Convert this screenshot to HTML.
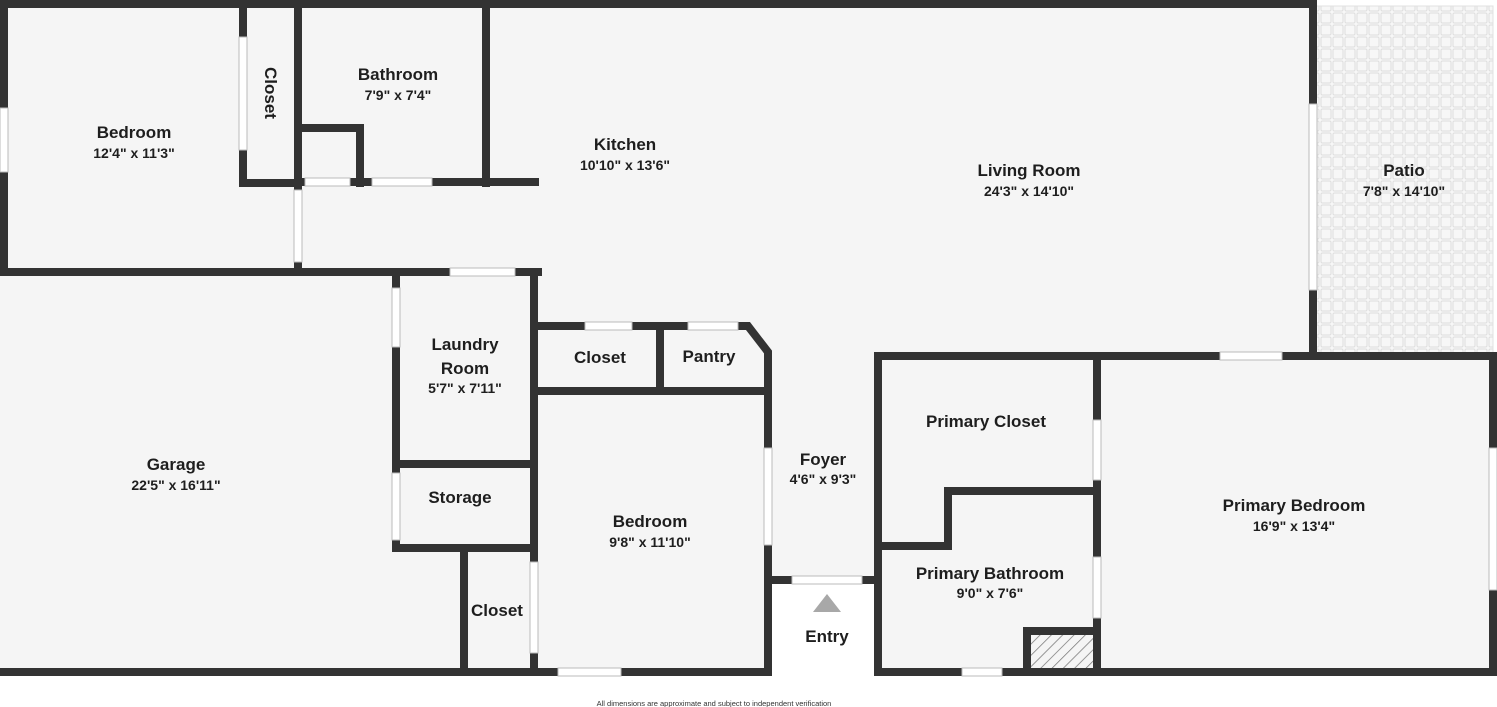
<!DOCTYPE html>
<html><head><meta charset="utf-8"><style>
body{margin:0;background:#fff;width:1497px;height:707px;overflow:hidden}
svg{display:block}
text{font-family:"Liberation Sans",sans-serif;fill:#1e1e1e;text-anchor:middle}
.n{font-size:17px;font-weight:bold}
.d{font-size:14px;font-weight:bold}
</style></head><body>
<svg width="1497" height="707" viewBox="0 0 1497 707">
<defs>
<pattern id="tile" width="12" height="12" patternUnits="userSpaceOnUse">
<rect width="12" height="12" fill="#f7f7f7"/>
<rect x="1" y="1" width="10" height="10" fill="none" stroke="#dedede" stroke-width="1" rx="1.5"/>
</pattern>
<pattern id="hatch" width="8" height="8" patternUnits="userSpaceOnUse" patternTransform="rotate(45)">
<rect width="8" height="8" fill="#f5f5f5"/><line x1="0" y1="0" x2="0" y2="8" stroke="#777" stroke-width="1.5"/>
</pattern>
</defs>
<polygon points="0,0 1313,0 1313,356 1497,356 1497,676 874,676 874,584 772,584 772,676 0,676" fill="#f5f5f5"/>
<rect x="1313" y="6" width="180" height="348" fill="url(#tile)" stroke="#e0e0e0"/>
<rect x="1027" y="632" width="66" height="38" fill="url(#hatch)"/>
<rect x="772" y="584" width="102" height="92" fill="#fff"/>
<g stroke="#333" stroke-width="8" stroke-linecap="square" fill="none">
<path d="M0,4H1313M4,4V272M0,272H538M243,4V183H298M298,4V272M302,128H360V183M298,182H535M486,4V183"/>
<path d="M1313,4V355M534,272V672M396,272V548H534M396,464H534M464,548V672M0,672H768"/>
<path d="M534,326H748L768,352V580H878M768,580V672M660,326V391M534,391H768"/>
<path d="M878,356H1493V672H878V356M1097,356V672M948,491H1097M948,491V546H878M1027,672V631H1097"/>
</g>
<g fill="#fff" stroke="#bbb" stroke-width="1">
<rect x="0" y="108" width="8" height="64"/>
<rect x="239" y="37" width="8" height="113"/>
<rect x="294" y="190" width="8" height="72"/>
<rect x="305" y="178" width="45" height="8"/>
<rect x="372" y="178" width="60" height="8"/>
<rect x="1309" y="104" width="8" height="186"/>
<rect x="450" y="268" width="65" height="8"/>
<rect x="392" y="288" width="8" height="59"/>
<rect x="392" y="473" width="8" height="67"/>
<rect x="530" y="562" width="8" height="91"/>
<rect x="558" y="668" width="63" height="8"/>
<rect x="585" y="322" width="47" height="8"/>
<rect x="688" y="322" width="50" height="8"/>
<rect x="764" y="448" width="8" height="97"/>
<rect x="792" y="576" width="70" height="8"/>
<rect x="1220" y="352" width="62" height="8"/>
<rect x="1093" y="420" width="8" height="60"/>
<rect x="1093" y="557" width="8" height="61"/>
<rect x="1489" y="448" width="8" height="142"/>
<rect x="962" y="668" width="40" height="8"/>
</g>
<polygon points="827,594 841,612 813,612" fill="#a8a8a8"/>
<text class="n" x="134" y="138">Bedroom</text><text class="d" x="134" y="158">12'4" x 11'3"</text>
<text class="n" x="271" y="93" transform="rotate(90 271 93)" dy="6">Closet</text>
<text class="n" x="398" y="80">Bathroom</text><text class="d" x="398" y="100">7'9" x 7'4"</text>
<text class="n" x="625" y="150">Kitchen</text><text class="d" x="625" y="170">10'10" x 13'6"</text>
<text class="n" x="1029" y="176">Living Room</text><text class="d" x="1029" y="196">24'3" x 14'10"</text>
<text class="n" x="1404" y="176">Patio</text><text class="d" x="1404" y="196">7'8" x 14'10"</text>
<text class="n" x="176" y="470">Garage</text><text class="d" x="176" y="490">22'5" x 16'11"</text>
<text class="n" x="465" y="350">Laundry</text><text class="n" x="465" y="374">Room</text><text class="d" x="465" y="393">5'7" x 7'11"</text>
<text class="n" x="460" y="503">Storage</text>
<text class="n" x="497" y="616">Closet</text>
<text class="n" x="600" y="363">Closet</text>
<text class="n" x="709" y="362">Pantry</text>
<text class="n" x="650" y="527">Bedroom</text><text class="d" x="650" y="547">9'8" x 11'10"</text>
<text class="n" x="823" y="465">Foyer</text><text class="d" x="823" y="484">4'6" x 9'3"</text>
<text class="n" x="827" y="642">Entry</text>
<text class="n" x="986" y="427">Primary Closet</text>
<text class="n" x="990" y="579">Primary Bathroom</text><text class="d" x="990" y="598">9'0" x 7'6"</text>
<text class="n" x="1294" y="511">Primary Bedroom</text><text class="d" x="1294" y="531">16'9" x 13'4"</text>
<text x="714" y="706" style="font-size:7.5px;fill:#333">All dimensions are approximate and subject to independent verification</text>
</svg>
</body></html>
